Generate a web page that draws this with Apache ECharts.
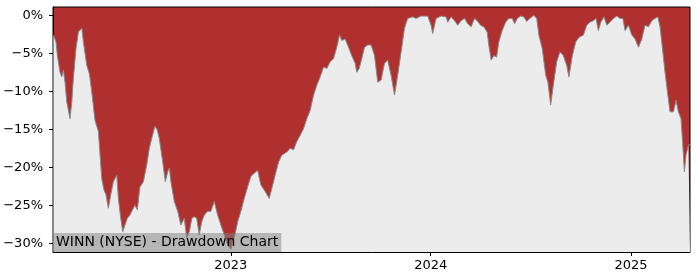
<!DOCTYPE html>
<html>
<head>
<meta charset="utf-8">
<script src="https://cdn.jsdelivr.net/npm/echarts@6/dist/echarts.min.js"></script>
<style>
html,body{margin:0;padding:0;background:#fff;}
#chart{width:700px;height:280px;}
</style>
</head>
<body>
<div id="chart"></div>
<script>
// Time points as decimal years
const times = [
2022.112,2022.125,2022.132,2022.145,2022.154,2022.162,2022.170,2022.179,2022.195,2022.204,
2022.212,2022.225,2022.237,2022.254,2022.262,2022.279,2022.292,2022.304,2022.320,2022.337,
2022.354,2022.365,2022.375,2022.387,2022.399,2022.412,2022.429,2022.437,2022.449,2022.459,
2022.470,2022.482,2022.495,2022.504,2022.520,2022.532,2022.545,2022.562,2022.579,2022.592,
2022.604,2022.620,2022.632,2022.642,2022.659,2022.672,2022.684,2022.692,2022.700,2022.717,
2022.734,2022.750,2022.767,2022.779,2022.792,2022.805,2022.817,2022.829,2022.842,2022.854,
2022.867,2022.884,2022.900,2022.917,2022.934,2022.950,2022.967,2022.984,2023.000,2023.017,
2023.034,2023.050,2023.067,2023.084,2023.100,2023.117,2023.134,2023.150,2023.162,2023.172,
2023.192,2023.205,2023.222,2023.239,2023.255,2023.280,2023.297,2023.314,2023.330,2023.347,
2023.364,2023.380,2023.397,2023.414,2023.430,2023.447,2023.464,2023.480,2023.497,2023.514,
2023.530,2023.544,2023.555,2023.572,2023.589,2023.605,2023.622,2023.630,2023.642,2023.655,
2023.669,2023.685,2023.702,2023.719,2023.735,2023.752,2023.769,2023.785,2023.802,2023.819,
2023.835,2023.852,2023.869,2023.885,2023.910,2023.927,2023.952,2023.985,2024.002,2024.010,
2024.027,2024.052,2024.077,2024.085,2024.102,2024.119,2024.135,2024.152,2024.169,2024.185,
2024.202,2024.219,2024.232,2024.249,2024.265,2024.282,2024.290,2024.302,2024.315,2024.329,
2024.340,2024.357,2024.374,2024.390,2024.407,2024.419,2024.432,2024.449,2024.465,2024.479,
2024.495,2024.515,2024.529,2024.540,2024.557,2024.574,2024.585,2024.599,2024.612,2024.629,
2024.645,2024.662,2024.679,2024.690,2024.707,2024.724,2024.740,2024.762,2024.779,2024.795,
2024.812,2024.825,2024.837,2024.849,2024.865,2024.879,2024.895,2024.912,2024.929,2024.945,
2024.959,2024.970,2024.987,2025.004,2025.020,2025.037,2025.054,2025.070,2025.087,2025.104,
2025.120,2025.134,2025.145,2025.159,2025.170,2025.182,2025.195,2025.212,2025.225,2025.237,
2025.250,2025.259,2025.267,2025.275,2025.287,2025.295
];
// Drawdown in percent
const drawdown = [
-2.6,-3.5,-5.3,-7.5,-8.1,-7.2,-8.8,-11.4,-13.6,-11.4,
-8.3,-4.4,-2.2,-1.7,-3.5,-6.6,-7.7,-10.1,-13.8,-15.3,
-21.5,-23.0,-23.6,-25.4,-23.6,-21.9,-21.0,-24.1,-26.7,-28.5,
-27.6,-26.7,-26.3,-25.8,-25.0,-25.6,-22.6,-21.9,-19.7,-17.5,
-16.2,-14.6,-15.1,-16.2,-19.3,-21.9,-20.6,-20.1,-21.9,-24.5,
-25.8,-27.6,-26.7,-29.3,-28.5,-26.7,-26.5,-26.7,-28.9,-27.2,
-26.3,-25.8,-25.8,-24.5,-26.3,-27.6,-28.9,-30.2,-30.8,-29.3,
-27.2,-25.8,-24.1,-22.6,-21.2,-20.8,-20.4,-22.3,-22.8,-23.2,
-24.1,-22.8,-21.0,-19.3,-18.4,-18.0,-17.5,-17.7,-16.6,-15.8,
-14.9,-13.6,-12.5,-10.5,-9.2,-8.1,-6.8,-7.0,-6.1,-5.7,
-4.2,-2.6,-3.3,-3.1,-4.2,-5.3,-6.3,-7.5,-7.0,-5.7,
-4.2,-3.9,-3.9,-5.3,-8.8,-8.5,-6.3,-5.9,-7.9,-10.5,
-7.9,-4.8,-1.7,-0.4,-0.2,-0.4,-0.1,-0.1,-1.3,-2.4,
-0.4,-0.1,-0.2,-0.9,-0.2,-0.7,-1.3,-0.7,-0.4,-1.1,
-1.5,-0.4,-0.7,-1.3,-1.5,-2.2,-3.9,-5.9,-5.3,-5.5,
-3.5,-2.0,-0.9,-0.4,-0.4,-1.1,-0.4,-0.1,-0.2,-0.8,
-0.4,0,-0.4,-2.6,-4.4,-7.9,-8.8,-11.8,-9.2,-6.1,
-4.8,-5.3,-6.6,-8.1,-5.3,-3.5,-2.9,-2.6,-1.3,-0.9,
-0.7,-0.4,-2.0,-0.9,-0.2,-1.3,-0.9,-0.4,-0.1,-0.4,
-0.4,-2.0,-1.3,-2.6,-3.1,-4.2,-3.1,-1.3,-1.5,-0.7,
-0.4,-0.2,-1.5,-4.8,-7.5,-10.1,-12.7,-12.7,-11.2,-12.7,
-13.6,-17.1,-20.6,-18.4,-17.1,-17.0
];
const yTicks = [0,-5,-10,-15,-20,-25,-30];
const xTickYears = [2023,2024,2025];
const xRange = [2022.11, 2025.295];
const yRange = [-31.15, 1.1];
const titleText = 'WINN (NYSE) - Drawdown Chart';

function yearToTs(t){
  const y = Math.floor(t);
  const s = Date.UTC(y,0,1), e = Date.UTC(y+1,0,1);
  return s + (t - y) * (e - s);
}
const seriesData = times.map((t,i)=>[yearToTs(t), drawdown[i]]);
const xTicks = xTickYears.map(y=>Date.UTC(y,0,1));

const FONT = 'DejaVu Sans';
const chart = echarts.init(document.getElementById('chart'), null, {renderer:'canvas'});
chart.setOption({
  animation:false,
  backgroundColor:'#ffffff',
  title:{
    text:titleText,
    left:53, top:233,
    padding:[2,3,2,3],
    backgroundColor:'rgba(128,128,128,0.5)',
    textStyle:{fontFamily:FONT,fontSize:14,lineHeight:15,fontWeight:'normal',color:'#000'}
  },
  grid:{left:53,right:10,top:7,bottom:28,show:true,backgroundColor:'#b03030',borderColor:'#000',borderWidth:1,containLabel:false},
  xAxis:{
    type:'value',
    min:yearToTs(xRange[0]), max:yearToTs(xRange[1]),
    axisLine:{show:true,onZero:false,lineStyle:{color:'#000',width:1}},
    axisTick:{show:true,length:4,lineStyle:{color:'#000'},customValues:xTicks},
    axisLabel:{customValues:xTicks,margin:7,fontFamily:FONT,fontSize:13,color:'#000',
      formatter:v=>String(new Date(v).getUTCFullYear())},
    splitLine:{show:false}
  },
  yAxis:{
    type:'value',
    min:yRange[0], max:yRange[1],
    axisLine:{show:true,lineStyle:{color:'#000',width:1}},
    axisTick:{show:true,length:4,lineStyle:{color:'#000'},customValues:yTicks},
    axisLabel:{customValues:yTicks,margin:10,fontFamily:FONT,fontSize:13,color:'#000',
      formatter:v=>{const r=Math.round(v); return (r<0?'\u2212'+(-r):String(r))+'%';}},
    splitLine:{show:false}
  },
  series:[{
    type:'line',
    data:seriesData,
    showSymbol:false,
    lineStyle:{color:'#8a8a8a',width:1},
    areaStyle:{color:'#ececec',origin:'start',opacity:1}
  }]
});
</script>
</body>
</html>
